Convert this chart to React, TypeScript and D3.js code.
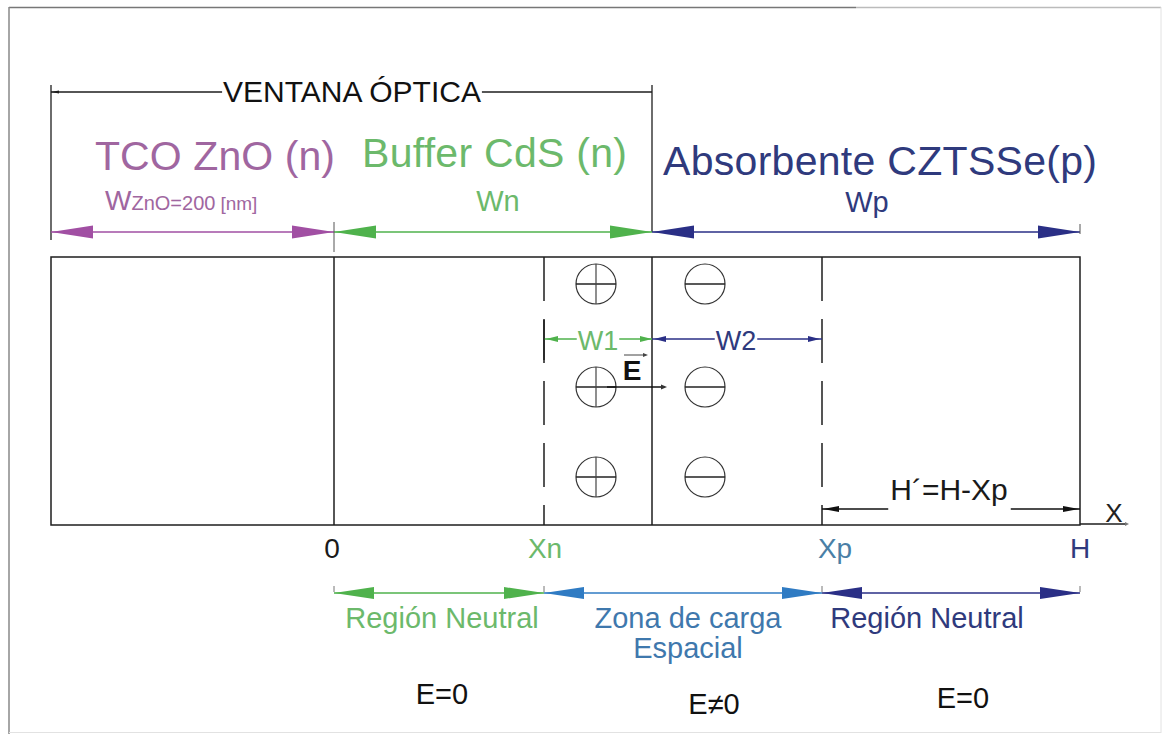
import React, { useEffect, useRef } from "react";
import * as d3 from "d3";

// boundaries along the device, in diagram units (left edge .. H)
const boundaryKeys = ["left", "zero", "xn", "junction", "xp", "h"];
const boundaryValues = [0, 283, 493, 601, 771, 1029];

const layerNames = ["TCO ZnO (n)", "Buffer CdS (n)", "Absorbente CZTSSe(p)"];
const widthLabels = ["Wn", "Wp"];
const axisTickLabels = ["0", "Xn", "Xp", "H"];
const axisTickKeys = ["zero", "xn", "xp", "h"];
const regionLabels = ["Región Neutral", "Zona de carga|Espacial", "Región Neutral"];
const fieldLabels = ["E=0", "E≠0", "E=0"];
// depth of the three ion rows inside the device box (0 = top, 268 = bottom)
const chargeRows = [27, 130, 220];

const FONT = "'Liberation Sans', Arial, Helvetica, sans-serif";

const App = () => {
  const ref = useRef<SVGSVGElement | null>(null);

  useEffect(() => {
    const svg = d3.select(ref.current);
    svg.selectAll("*").remove();

    const pos: Record<string, number> = {};
    boundaryKeys.forEach((k, i) => (pos[k] = boundaryValues[i]));

    const x = d3.scaleLinear().domain([0, 1029]).range([51, 1080]);
    const yBox = d3.scaleLinear().domain([0, 268]).range([257, 525]);
    const X = (k: string) => x(pos[k]);

    const c = {
      purple: "#a14fa3",
      purpleText: "#a066a0",
      green: "#4fb24c",
      greenText: "#6cb96b",
      navy: "#2a2f86",
      navyText: "#2f3a7d",
      blue: "#2f7bc3",
      blueText: "#3f78ad",
      ink: "#1e1e1e",
    };

    // page frame
    svg.append("line").attr("x1", 9).attr("x2", 856).attr("y1", 7.5).attr("y2", 7.5).attr("stroke", "#777").attr("stroke-width", 1.5);
    svg.append("line").attr("x1", 856).attr("x2", 1161).attr("y1", 7.5).attr("y2", 7.5).attr("stroke", "#bbb").attr("stroke-width", 1.5);
    svg.append("line").attr("x1", 9).attr("x2", 9).attr("y1", 7).attr("y2", 734).attr("stroke", "#888").attr("stroke-width", 1.5);
    svg.append("line").attr("x1", 1161).attr("x2", 1161).attr("y1", 7).attr("y2", 733).attr("stroke", "#e2e2e2");
    svg.append("line").attr("x1", 9).attr("x2", 1161).attr("y1", 732.5).attr("y2", 732.5).attr("stroke", "#e2e2e2");

    const g = svg.append("g");

    const arrowHead = (tipX: number, y: number, dir: number, len: number, half: number, color: string) => {
      g.append("path")
        .attr("d", `M${tipX},${y} L${tipX - dir * len},${y - half} L${tipX - dir * len},${y + half} Z`)
        .attr("fill", color);
    };

    const dimArrow = (x1: number, x2: number, y: number, color: string, len: number, half: number, w = 1.3) => {
      g.append("line").attr("x1", x1).attr("x2", x2).attr("y1", y).attr("y2", y).attr("stroke", color).attr("stroke-width", w);
      arrowHead(x1, y, -1, len, half, color);
      arrowHead(x2, y, 1, len, half, color);
    };

    const text = (
      s: string,
      tx: number,
      ty: number,
      size: number,
      fill: string,
      anchor = "middle"
    ) =>
      g.append("text")
        .attr("x", tx)
        .attr("y", ty)
        .attr("font-family", FONT)
        .attr("font-size", size)
        .attr("fill", fill)
        .attr("text-anchor", anchor)
        .text(s);

    // --- VENTANA ÓPTICA dimension
    const ventY = 92;
    const vent = text("VENTANA ÓPTICA", 352, ventY + 10, 30, "#111");
    const vb = (vent.node() as SVGTextElement).getBBox();
    g.append("line").attr("x1", X("left")).attr("x2", vb.x - 1).attr("y1", ventY).attr("y2", ventY).attr("stroke", c.ink).attr("stroke-width", 1.3);
    g.append("line").attr("x1", vb.x + vb.width + 1).attr("x2", X("junction")).attr("y1", ventY).attr("y2", ventY).attr("stroke", c.ink).attr("stroke-width", 1.3);
    arrowHead(X("left"), ventY, -1, 8, 1.5, c.ink);
    g.append("line").attr("x1", X("left")).attr("x2", X("left")).attr("y1", 85).attr("y2", 240).attr("stroke", c.ink).attr("stroke-width", 1.3);
    g.append("line").attr("x1", X("junction")).attr("x2", X("junction")).attr("y1", 85).attr("y2", 232).attr("stroke", c.ink).attr("stroke-width", 1.3);

    // --- layer titles
    text(layerNames[0], X("left") + 44, 170, 41, c.purpleText, "start").attr("textLength", 240);
    text(layerNames[1], X("zero") + 28, 167, 41, c.greenText, "start").attr("textLength", 265);
    text(layerNames[2], X("junction") + 11, 175, 41, c.navyText, "start").attr("textLength", 434);

    // width labels
    const wz = g.append("text")
      .attr("x", X("left") + 54)
      .attr("y", 210)
      .attr("font-family", FONT)
      .attr("fill", c.purpleText);
    wz.append("tspan").attr("font-size", 28).text("W");
    wz.append("tspan").attr("font-size", 20).text("ZnO=200");
    wz.append("tspan").attr("font-size", 19).attr("dx", 5).text("[nm]");
    text(widthLabels[0], (X("zero") + X("junction")) / 2 + 5, 211, 29, c.greenText);
    text(widthLabels[1], (X("junction") + X("h")) / 2 + 1, 212, 29, c.navyText);

    // top dimension arrows
    const topY = 232;
    dimArrow(X("left"), X("zero"), topY, c.purple, 42, 6.5);
    dimArrow(X("zero"), X("junction"), topY, c.green, 42, 6.5);
    dimArrow(X("junction"), X("h"), topY, c.navy, 42, 6.5);
    g.append("line").attr("x1", X("zero")).attr("x2", X("zero")).attr("y1", 222).attr("y2", 252).attr("stroke", "#555").attr("stroke-width", 1);
    g.append("line").attr("x1", X("h")).attr("x2", X("h")).attr("y1", 224).attr("y2", 234).attr("stroke", "#555").attr("stroke-width", 1);

    // --- device box
    g.append("rect")
      .attr("x", X("left"))
      .attr("y", yBox(0))
      .attr("width", X("h") - X("left"))
      .attr("height", yBox(268) - yBox(0))
      .attr("fill", "none")
      .attr("stroke", c.ink)
      .attr("stroke-width", 1.5);
    ["zero", "junction"].forEach((k) =>
      g.append("line").attr("x1", X(k)).attr("x2", X(k)).attr("y1", yBox(0)).attr("y2", yBox(268)).attr("stroke", c.ink).attr("stroke-width", 1.5)
    );
    ["xn", "xp"].forEach((k) =>
      g.append("line")
        .attr("x1", X(k)).attr("x2", X(k))
        .attr("y1", yBox(0)).attr("y2", yBox(268))
        .attr("stroke", c.ink)
        .attr("stroke-width", 1.5)
        .attr("stroke-dasharray", "44 18")
    );

    // fixed ions: donors (+) on the n side, acceptors (−) on the p side
    const r = 20;
    const plusX = (X("xn") + X("junction")) / 2 - 2;
    const minusX = (X("junction") + X("xp")) / 2 - 32;
    chargeRows.forEach((d) => {
      const cy = yBox(d);
      g.append("circle").attr("cx", plusX).attr("cy", cy).attr("r", r).attr("fill", "none").attr("stroke", "#333").attr("stroke-width", 1.2);
      g.append("line").attr("x1", plusX - r).attr("x2", plusX + r).attr("y1", cy).attr("y2", cy).attr("stroke", "#222").attr("stroke-width", 1.3);
      g.append("line").attr("x1", plusX).attr("x2", plusX).attr("y1", cy - r).attr("y2", cy + r).attr("stroke", "#444").attr("stroke-width", 1.2);
      g.append("circle").attr("cx", minusX).attr("cy", cy).attr("r", r).attr("fill", "none").attr("stroke", "#333").attr("stroke-width", 1.2);
      g.append("line").attr("x1", minusX - r).attr("x2", minusX + r).attr("y1", cy).attr("y2", cy).attr("stroke", "#222").attr("stroke-width", 1.3);
    });

    // W1 / W2
    const wY = 339;
    const w1 = text("W1", (X("xn") + X("junction")) / 2, 350, 27, c.greenText);
    const w1b = (w1.node() as SVGTextElement).getBBox();
    g.append("line").attr("x1", X("xn")).attr("x2", w1b.x - 1).attr("y1", wY).attr("y2", wY).attr("stroke", c.green).attr("stroke-width", 1.3);
    g.append("line").attr("x1", w1b.x + w1b.width + 1).attr("x2", X("junction")).attr("y1", wY).attr("y2", wY).attr("stroke", c.green).attr("stroke-width", 1.3);
    arrowHead(X("xn") + 2, wY, -1, 12, 3, c.green);
    arrowHead(X("junction"), wY, 1, 12, 3, c.green);
    const w2 = text("W2", (X("junction") + X("xp")) / 2 - 1, 350, 27, c.navyText);
    const w2b = (w2.node() as SVGTextElement).getBBox();
    g.append("line").attr("x1", X("junction")).attr("x2", w2b.x - 1).attr("y1", wY).attr("y2", wY).attr("stroke", c.navy).attr("stroke-width", 1.3);
    g.append("line").attr("x1", w2b.x + w2b.width + 1).attr("x2", X("xp")).attr("y1", wY).attr("y2", wY).attr("stroke", c.navy).attr("stroke-width", 1.3);
    arrowHead(X("junction") + 2, wY, -1, 12, 3, c.navy);
    arrowHead(X("xp") - 2, wY, 1, 12, 3, c.navy);
    // dashed-line ticks at W1/W2 ends
    g.append("line").attr("x1", X("xn")).attr("x2", X("xn")).attr("y1", 320).attr("y2", 360).attr("stroke", c.ink).attr("stroke-width", 1.5);

    // electric field vector
    text("E", 632, 380, 28, "#111").attr("font-weight", "bold");
    g.append("line").attr("x1", 624).attr("x2", 645).attr("y1", 355).attr("y2", 355).attr("stroke", "#444").attr("stroke-width", 1);
    arrowHead(648, 355, 1, 5, 2, "#444");
    g.append("line").attr("x1", 607).attr("x2", 662).attr("y1", 387).attr("y2", 387).attr("stroke", "#111").attr("stroke-width", 1.3);
    arrowHead(667, 387, 1, 6, 2.5, "#333");

    // H' dimension
    const hY = 509;
    const hp = text("H´=H-Xp", (X("xp") + X("h")) / 2 - 2, 500, 30, "#1a1a1a");
    const hb = (hp.node() as SVGTextElement).getBBox();
    g.append("line").attr("x1", X("xp")).attr("x2", hb.x - 2).attr("y1", hY).attr("y2", hY).attr("stroke", "#111").attr("stroke-width", 1.3);
    g.append("line").attr("x1", hb.x + hb.width + 3).attr("x2", X("h")).attr("y1", hY).attr("y2", hY).attr("stroke", "#111").attr("stroke-width", 1.3);
    arrowHead(X("xp") + 1, hY, -1, 16, 3, "#111");
    arrowHead(X("h") - 1, hY, 1, 16, 3, "#111");

    // x axis continuation
    g.append("line").attr("x1", X("h")).attr("x2", 1127).attr("y1", 524).attr("y2", 524).attr("stroke", c.ink).attr("stroke-width", 1.3);
    arrowHead(1129, 524, 1, 4, 2, "#777");
    text("X", 1114, 522, 26, "#222");

    // axis tick labels
    const tickColors = ["#1a1a1a", c.greenText, "#4a7fa6", c.navyText];
    const tickOffset = [-2, 1, 13, 0];
    axisTickLabels.forEach((s, i) => text(s, X(axisTickKeys[i]) + tickOffset[i], 558, 28, tickColors[i]));

    // bottom region arrows
    const botY = 593;
    dimArrow(X("zero"), X("xn"), botY, c.green, 40, 6);
    dimArrow(X("xn"), X("xp"), botY, c.blue, 40, 6);
    dimArrow(X("xp"), X("h"), botY, c.navy, 40, 6);
    ["zero", "xn", "xp", "h"].forEach((k) =>
      g.append("line").attr("x1", X(k)).attr("x2", X(k)).attr("y1", botY - 7).attr("y2", botY - 1).attr("stroke", "#777").attr("stroke-width", 1)
    );

    const regColors = [c.greenText, c.blueText, c.navyText];
    const regCenters = [
      (X("zero") + X("xn")) / 2 + 3,
      (X("xn") + X("xp")) / 2 + 5,
      (X("xp") + X("h")) / 2 - 24,
    ];
    regionLabels.forEach((s, i) => {
      s.split("|").forEach((line, j) => text(line, regCenters[i], 628 + j * 30, 29, regColors[i]));
    });

    const fieldX = [442, 714, 963];
    const fieldY = [704, 714, 708];
    fieldLabels.forEach((s, i) => text(s, fieldX[i], fieldY[i], 29, "#111"));
  }, []);

  return (
    <svg
      ref={ref}
      width={1163}
      height={734}
      style={{ position: "absolute", left: 0, top: 0, background: "#fff" }}
    />
  );
};

export default App;
